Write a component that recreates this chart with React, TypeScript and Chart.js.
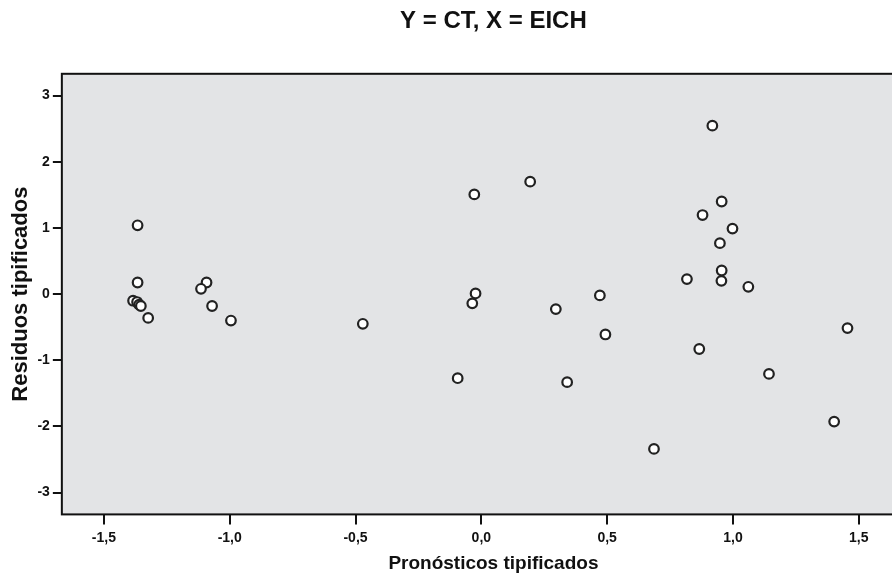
import React, { useEffect, useRef } from "react";
import { Chart, registerables } from "chart.js";

Chart.register(...registerables);

const chartTitle = "Y = CT, X = EICH";
const xAxisTitle = "Pronósticos tipificados";
const yAxisTitle = "Residuos tipificados";

const xValues = [
  -1.366, -1.366, -1.384, -1.368, -1.36, -1.353, -1.324, -1.092, -1.114, -1.07,
  -0.995, -0.471, -0.028, 0.194, 0.918, 0.955, 0.879, 0.998, 0.948, 0.955,
  0.954, 0.817, 1.061, -0.023, -0.036, 0.296, 0.471, 0.493, 0.866, 1.143,
  1.455, 1.402, 0.686, -0.094, 0.341,
];
const yValues = [
  1.04, 0.175, -0.1, -0.12, -0.16, -0.18, -0.36, 0.175, 0.08, -0.18,
  -0.4, -0.449, 1.507, 1.7, 2.546, 1.4, 1.195, 0.99, 0.77, 0.357,
  0.2, 0.227, 0.11, 0.01, -0.14, -0.227, -0.02, -0.61, -0.83, -1.206,
  -0.514, -1.927, -2.34, -1.271, -1.331,
];

const xTicks = [-1.5, -1.0, -0.5, 0.0, 0.5, 1.0, 1.5];
const yTicks = [-3, -2, -1, 0, 1, 2, 3];

const X_MIN = -1.667;
const X_MAX = 1.763;
const Y_MIN = -3.33;
const Y_MAX = 3.33;

const plotFramePlugin = {
  id: "plotFrame",
  beforeDatasetsDraw(chart: any) {
    const { ctx, chartArea } = chart;
    ctx.save();
    ctx.fillStyle = "#e3e4e6";
    ctx.fillRect(chartArea.left, chartArea.top, chartArea.right - chartArea.left, chartArea.bottom - chartArea.top);
    ctx.strokeStyle = "#111111";
    ctx.lineWidth = 2;
    ctx.strokeRect(chartArea.left, chartArea.top, chartArea.right - chartArea.left, chartArea.bottom - chartArea.top);
    ctx.restore();
  },
};

export default function App() {
  const ref = useRef<HTMLCanvasElement | null>(null);

  useEffect(() => {
    if (!ref.current) return;
    const points = xValues.map((x, i) => ({ x, y: yValues[i] }));
    const font = "'Liberation Sans', Arial, sans-serif";
    const chart = new Chart(ref.current, {
      type: "scatter",
      data: {
        datasets: [
          {
            data: points,
            pointRadius: 4.8,
            pointBorderWidth: 2.2,
            pointBorderColor: "#222222",
            pointBackgroundColor: "#ffffff",
            pointHoverRadius: 4.8,
          },
        ],
      },
      plugins: [plotFramePlugin],
      options: {
        animation: false,
        responsive: false,
        devicePixelRatio: 1,
        layout: { padding: { left: 5, top: 5, right: 0, bottom: 0 } },
        plugins: {
          legend: { display: false },
          tooltip: { enabled: false },
          title: {
            display: true,
            text: chartTitle,
            fullSize: false,
            color: "#111111",
            font: { family: font, size: 24, weight: "bold" },
            padding: { top: 2, bottom: 38 },
          },
        },
        scales: {
          x: {
            type: "linear",
            min: X_MIN,
            max: X_MAX,
            afterBuildTicks: (scale: any) => {
              scale.ticks = xTicks.map((v) => ({ value: v }));
            },
            ticks: {
              color: "#111111",
              font: { family: font, size: 14, weight: "bold" },
              padding: 5,
              maxRotation: 0,
              autoSkip: false,
              callback: (v: any) => Number(v).toFixed(1).replace(".", ","),
            },
            grid: {
              drawOnChartArea: false,
              drawTicks: true,
              tickLength: 10,
              color: "#111111",
              lineWidth: 2,
            },
            border: { display: false },
            title: {
              display: true,
              text: xAxisTitle,
              color: "#111111",
              font: { family: font, size: 19, weight: "bold" },
              padding: { top: 1, bottom: 0 },
            },
          },
          y: {
            type: "linear",
            min: Y_MIN,
            max: Y_MAX,
            afterBuildTicks: (scale: any) => {
              scale.ticks = yTicks.map((v) => ({ value: v }));
            },
            ticks: {
              color: "#111111",
              font: { family: font, size: 14, weight: "bold" },
              padding: 3,
              autoSkip: false,
              callback: (v: any) => String(v),
            },
            grid: {
              drawOnChartArea: false,
              drawTicks: true,
              tickLength: 9,
              color: "#111111",
              lineWidth: 2,
            },
            border: { display: false },
            title: {
              display: true,
              text: yAxisTitle,
              color: "#111111",
              font: { family: font, size: 22, weight: "bold" },
              padding: { top: 3, bottom: 0 },
            },
          },
        },
      },
    });
    return () => chart.destroy();
  }, []);

  return (
    <div style={{ position: "absolute", left: 0, top: 0, width: 932, height: 575, background: "#ffffff" }}>
      <canvas ref={ref} width={932} height={575} style={{ display: "block" }} />
    </div>
  );
}
